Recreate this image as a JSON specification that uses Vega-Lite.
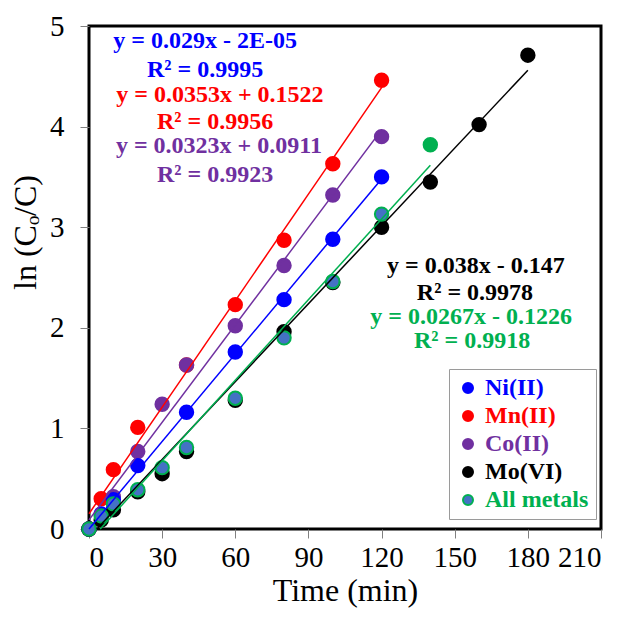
{
  "$schema": "https://vega.github.io/schema/vega-lite/v6.json",
  "width": 512,
  "height": 503,
  "autosize": "none",
  "padding": {"left": 89, "top": 26, "right": 38, "bottom": 97},
  "background": "white",
  "datasets": {
    "points": [
      {"series": "Mn(II)", "t": 0, "v": 0},
      {"series": "Mn(II)", "t": 5, "v": 0.30},
      {"series": "Mn(II)", "t": 10, "v": 0.59},
      {"series": "Mn(II)", "t": 20, "v": 1.01},
      {"series": "Mn(II)", "t": 40, "v": 1.63},
      {"series": "Mn(II)", "t": 60, "v": 2.23},
      {"series": "Mn(II)", "t": 80, "v": 2.87},
      {"series": "Mn(II)", "t": 100, "v": 3.63},
      {"series": "Mn(II)", "t": 120, "v": 4.46},
      {"series": "Co(II)", "t": 0, "v": 0},
      {"series": "Co(II)", "t": 10, "v": 0.32},
      {"series": "Co(II)", "t": 20, "v": 0.77},
      {"series": "Co(II)", "t": 30, "v": 1.24},
      {"series": "Co(II)", "t": 40, "v": 1.63},
      {"series": "Co(II)", "t": 60, "v": 2.02},
      {"series": "Co(II)", "t": 80, "v": 2.62},
      {"series": "Co(II)", "t": 100, "v": 3.32},
      {"series": "Co(II)", "t": 120, "v": 3.90},
      {"series": "Ni(II)", "t": 0, "v": 0},
      {"series": "Ni(II)", "t": 5, "v": 0.15},
      {"series": "Ni(II)", "t": 10, "v": 0.29},
      {"series": "Ni(II)", "t": 20, "v": 0.63},
      {"series": "Ni(II)", "t": 40, "v": 1.16},
      {"series": "Ni(II)", "t": 60, "v": 1.76},
      {"series": "Ni(II)", "t": 80, "v": 2.28},
      {"series": "Ni(II)", "t": 100, "v": 2.88},
      {"series": "Ni(II)", "t": 120, "v": 3.50},
      {"series": "Mo(VI)", "t": 0, "v": 0},
      {"series": "Mo(VI)", "t": 5, "v": 0.09},
      {"series": "Mo(VI)", "t": 10, "v": 0.19},
      {"series": "Mo(VI)", "t": 20, "v": 0.37},
      {"series": "Mo(VI)", "t": 30, "v": 0.55},
      {"series": "Mo(VI)", "t": 40, "v": 0.77},
      {"series": "Mo(VI)", "t": 60, "v": 1.28},
      {"series": "Mo(VI)", "t": 80, "v": 1.96},
      {"series": "Mo(VI)", "t": 100, "v": 2.45},
      {"series": "Mo(VI)", "t": 120, "v": 3.00},
      {"series": "Mo(VI)", "t": 140, "v": 3.45},
      {"series": "Mo(VI)", "t": 160, "v": 4.02},
      {"series": "Mo(VI)", "t": 180, "v": 4.71},
      {"series": "All metals", "t": 0, "v": 0},
      {"series": "All metals", "t": 5, "v": 0.13},
      {"series": "All metals", "t": 10, "v": 0.25},
      {"series": "All metals", "t": 20, "v": 0.39},
      {"series": "All metals", "t": 30, "v": 0.61},
      {"series": "All metals", "t": 40, "v": 0.81},
      {"series": "All metals", "t": 60, "v": 1.30},
      {"series": "All metals", "t": 80, "v": 1.90},
      {"series": "All metals", "t": 100, "v": 2.46},
      {"series": "All metals", "t": 120, "v": 3.13},
      {"series": "All metals", "t": 140, "v": 3.82}
    ],
    "lines": [
      {"series": "Mn(II)", "t": 0, "v": 0.152},
      {"series": "Mn(II)", "t": 120, "v": 4.388},
      {"series": "Co(II)", "t": 0, "v": 0.091},
      {"series": "Co(II)", "t": 120, "v": 3.967},
      {"series": "Ni(II)", "t": 0, "v": 0},
      {"series": "Ni(II)", "t": 120, "v": 3.48},
      {"series": "Mo(VI)", "t": 3.2, "v": 0},
      {"series": "Mo(VI)", "t": 180, "v": 4.56},
      {"series": "All metals", "t": 4.6, "v": 0},
      {"series": "All metals", "t": 140, "v": 3.615}
    ],
    "labels": [
      {"series": "Ni(II)", "t": 47.6, "v": 4.85, "label": "y = 0.029x - 2E-05"},
      {"series": "Ni(II)", "t": 47.6, "v": 4.56, "label": "R² = 0.9995"},
      {"series": "Mn(II)", "t": 53.7, "v": 4.31, "label": "y = 0.0353x + 0.1522"},
      {"series": "Mn(II)", "t": 51.7, "v": 4.05, "label": "R² = 0.9956"},
      {"series": "Co(II)", "t": 53.3, "v": 3.81, "label": "y = 0.0323x + 0.0911"},
      {"series": "Co(II)", "t": 51.7, "v": 3.52, "label": "R² = 0.9923"},
      {"series": "Mo(VI)", "t": 158.7, "v": 2.61, "label": "y = 0.038x - 0.147"},
      {"series": "Mo(VI)", "t": 158.3, "v": 2.35, "label": "R² = 0.9978"},
      {"series": "All metals", "t": 156.7, "v": 2.11, "label": "y = 0.0267x - 0.1226"},
      {"series": "All metals", "t": 157.1, "v": 1.87, "label": "R² = 0.9918"}
    ]
  },
  "layer": [
    {
      "data": {"name": "points"},
      "mark": {"type": "point", "shape": "circle", "filled": true, "size": 180, "strokeWidth": 2, "opacity": 1},
      "encoding": {
        "x": {"field": "t", "type": "quantitative", "scale": {"domain": [0, 210], "nice": false, "zero": false},
              "axis": {"values": [0, 30, 60, 90, 120, 150, 180, 210], "format": "d", "title": "Time (min)"}},
        "y": {"field": "v", "type": "quantitative", "scale": {"domain": [0, 5], "nice": false},
              "axis": {"values": [0, 1, 2, 3, 4, 5], "format": "d", "title": "ln (Cₒ/C)", "titleX": -64, "titleY": 206, "titleAngle": -90, "titleBaseline": "middle", "titleAlign": "center"}},
        "fill": {
          "condition": {"test": "datum.series === 'All metals' && datum.t === 140", "value": "#00B050"},
          "field": "series", "type": "nominal",
          "scale": {"domain": ["Ni(II)", "Mn(II)", "Co(II)", "Mo(VI)", "All metals"], "range": ["#0000FF", "#FF0000", "#7030A0", "#000000", "#4472C4"]},
          "legend": {
            "title": null, "orient": "none", "legendX": 360, "legendY": 343,
            "padding": 7, "rowPadding": 4, "labelOffset": 5,
            "symbolType": "circle", "symbolSize": 100, "symbolStrokeWidth": 2,
            "labelFont": "Liberation Serif", "labelFontSize": 24, "labelFontWeight": "bold", "labelLimit": 300,
            "labelColor": {"expr": "datum.value === 'Ni(II)' ? '#0000FF' : datum.value === 'Mn(II)' ? '#FF0000' : datum.value === 'Co(II)' ? '#7030A0' : datum.value === 'Mo(VI)' ? '#000000' : '#00B050'"},
            "fillColor": "white", "strokeColor": "#9a9a9a",
            "encode": {
              "legend": {"update": {"strokeWidth": {"value": 2}}}
            }
          }
        },
        "stroke": {
          "field": "series", "type": "nominal",
          "scale": {"domain": ["Ni(II)", "Mn(II)", "Co(II)", "Mo(VI)", "All metals"], "range": ["#0000FF", "#FF0000", "#7030A0", "#000000", "#00B050"]}
        }
      }
    },
    {
      "data": {"name": "lines"},
      "mark": {"type": "line", "strokeWidth": 1.5},
      "encoding": {
        "x": {"field": "t", "type": "quantitative"},
        "y": {"field": "v", "type": "quantitative"},
        "detail": {"field": "series", "type": "nominal"},
        "color": {"field": "series", "type": "nominal", "legend": null,
          "scale": {"domain": ["Ni(II)", "Mn(II)", "Co(II)", "Mo(VI)", "All metals"], "range": ["#0000FF", "#FF0000", "#7030A0", "#000000", "#00B050"]}}
      }
    },
    {
      "data": {"name": "labels"},
      "mark": {"type": "text", "font": "Liberation Serif", "fontSize": 24, "fontWeight": "bold", "align": "center", "baseline": "middle"},
      "encoding": {
        "x": {"field": "t", "type": "quantitative"},
        "y": {"field": "v", "type": "quantitative"},
        "text": {"field": "label", "type": "nominal"},
        "color": {"field": "series", "type": "nominal", "legend": null}
      }
    }
  ],
  "config": {
    "view": {"stroke": "black", "strokeWidth": 3},
    "axis": {
      "domain": false, "grid": false,
      "tickColor": "#808080", "tickSize": 9, "tickWidth": 1,
      "labelFont": "Liberation Serif", "labelFontSize": 29, "labelColor": "black",
      "titleFont": "Liberation Serif", "titleFontSize": 32, "titleFontWeight": "normal", "titleColor": "black"
    },
    "axisX": {"labelPadding": 5, "titlePadding": 3, "labelOverlap": false},
    "axisY": {"labelPadding": 16}
  }
}
